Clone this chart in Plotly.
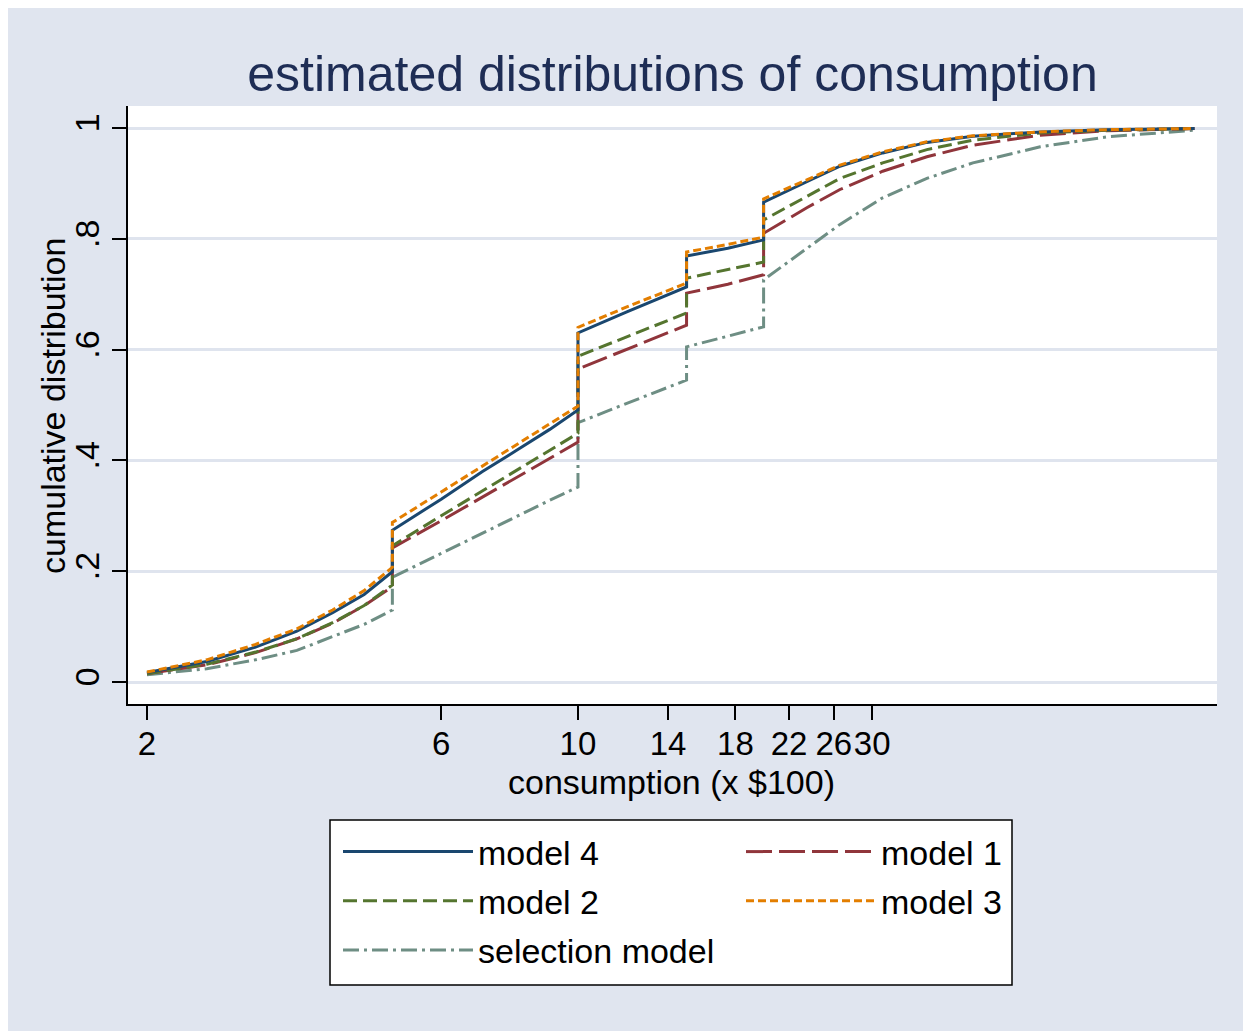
import math
import plotly.graph_objects as go

# ---------------- data ----------------
consumption = [2, 2.5, 3, 3.5, 4, 4.5, 5,
               5, 6, 7, 8, 9, 10,
               10, 12, 15,
               15, 17.5, 20,
               20, 23.5, 26.6, 31.2, 36.8, 43.7, 56.2, 72, 100]

model4 = [0.017, 0.037, 0.063, 0.092, 0.125, 0.158, 0.199,
          0.274, 0.330, 0.380, 0.420, 0.456, 0.491,
          0.630, 0.668, 0.713,
          0.769, 0.783, 0.798,
          0.866, 0.903, 0.931, 0.955, 0.974, 0.985, 0.993, 0.997, 0.999]

model1 = [0.015, 0.031, 0.053, 0.078, 0.106, 0.138, 0.172,
          0.242, 0.291, 0.334, 0.372, 0.404, 0.433,
          0.565, 0.600, 0.644,
          0.702, 0.718, 0.735,
          0.810, 0.856, 0.889, 0.922, 0.948, 0.969, 0.987, 0.995, 0.999]

model2 = [0.015, 0.032, 0.054, 0.078, 0.107, 0.138, 0.175,
          0.246, 0.300, 0.345, 0.383, 0.418, 0.449,
          0.588, 0.623, 0.666,
          0.729, 0.744, 0.758,
          0.834, 0.876, 0.909, 0.937, 0.961, 0.978, 0.991, 0.996, 0.999]

model3 = [0.018, 0.040, 0.068, 0.096, 0.130, 0.165, 0.207,
          0.288, 0.343, 0.390, 0.430, 0.466, 0.498,
          0.640, 0.677, 0.720,
          0.776, 0.790, 0.803,
          0.872, 0.906, 0.933, 0.957, 0.975, 0.986, 0.993, 0.997, 0.999]

selection = [0.013, 0.024, 0.040, 0.057, 0.082, 0.104, 0.130,
             0.189, 0.232, 0.269, 0.300, 0.328, 0.352,
             0.468, 0.503, 0.545,
             0.605, 0.624, 0.641,
             0.726, 0.783, 0.826, 0.874, 0.909, 0.937, 0.966, 0.984, 0.996]

x_tickvals = [2, 6, 10, 14, 18, 22, 26, 30]
x_ticktext = ["2", "6", "10", "14", "18", "22", "26", "30"]
y_tickvals = [0, 0.2, 0.4, 0.6, 0.8, 1]
y_ticktext = ["0", ".2", ".4", ".6", ".8", "1"]

# ---------------- styling ----------------
FONT = "Liberation Sans, Arial, Helvetica, sans-serif"
BG = "#e0e5ef"
OFF = 8                      # page body margin of the html page
W, H = 1251 - OFF, 1031 - OFF
# plot area in figure pixels (reference pixels minus page offset)
L, R, T, B = 128 - OFF, 1217 - OFF, 106 - OFF, 704 - OFF

series = [
    # name, values, color, dash, legend, rank
    ("selection model", selection, "#6e8e84", "16px,5px,3px,5px", "legend", 3),
    ("model 1", model1, "#90353b", "26px,7px", "legend2", 1),
    ("model 2", model2, "#55752f", "14px,6px", "legend", 2),
    ("model 4", model4, "#1a476f", "solid", "legend", 1),
    ("model 3", model3, "#e37e00", "8px,4px", "legend2", 2),
]

fig = go.Figure()
for name, vals, color, dash, leg, rank in series:
    fig.add_trace(go.Scatter(
        x=consumption, y=vals, mode="lines", name=name,
        line=dict(color=color, width=3, dash=dash),
        legend=leg, legendrank=rank, legendgroup=name,
    ))

def px_x(p):          # reference pixel -> paper fraction
    return (p - OFF - L) / (R - L)

def px_y(p):
    return (B - (p - OFF)) / (B - T)

shapes = [
    dict(type="rect", xref="paper", yref="paper", layer="above",
         x0=px_x(330), x1=px_x(1012), y0=px_y(985), y1=px_y(820),
         fillcolor="white", line=dict(color="black", width=1.5)),
]

annotations = [
    dict(text="consumption (x $100)", xref="paper", yref="paper",
         x=px_x(671.5), y=px_y(782), xanchor="center", yanchor="middle",
         showarrow=False, font=dict(family=FONT, size=34, color="black")),
    dict(text="cumulative distribution", xref="paper", yref="paper",
         x=px_x(53), y=px_y(406), xanchor="center", yanchor="middle",
         textangle=-90, showarrow=False,
         font=dict(family=FONT, size=34, color="black")),
]

xmin = math.log10(2) + (128 - 147) / 616.6
xmax = math.log10(2) + (1217 - 147) / 616.6
ymin = (682 - 704) / 554
ymax = (682 - 106) / 554

legend_common = dict(
    xref="container", yref="container", xanchor="left", yanchor="top",
    bgcolor="rgba(0,0,0,0)", borderwidth=0, itemwidth=130,
    font=dict(family=FONT, size=34, color="black"),
    tracegroupgap=2, itemclick=False, itemdoubleclick=False,
)

fig.update_layout(
    width=W, height=H, autosize=False,
    margin=dict(l=L, r=W - R, t=T, b=H - B, pad=0, autoexpand=False),
    paper_bgcolor=BG, plot_bgcolor="white",
    font=dict(family=FONT, size=34, color="black"),
    title=dict(text="estimated distributions of consumption",
               x=(L + R) / 2 / W, xref="container", xanchor="center",
               y=1 - (73 - OFF) / H, yref="container", yanchor="middle",
               font=dict(family=FONT, size=50, color="#1e2d55")),
    showlegend=True,
    legend=dict(x=(338 - OFF) / W, y=1 - (823 - OFF) / H, **legend_common),
    legend2=dict(x=(741 - OFF) / W, y=1 - (823 - OFF) / H, **legend_common),
    shapes=shapes,
    annotations=annotations,
    xaxis=dict(
        type="log", range=[xmin, xmax], autorange=False, automargin=False,
        tickmode="array", tickvals=x_tickvals, ticktext=x_ticktext,
        tickangle=0, ticklabelstandoff=-4,
        ticks="outside", ticklen=14, tickwidth=1.5, tickcolor="black",
        showline=True, linecolor="black", linewidth=1.5,
        showgrid=False, zeroline=False,
        tickfont=dict(family=FONT, size=33, color="black"),
    ),
    yaxis=dict(
        range=[ymin, ymax], autorange=False, automargin=False,
        tickmode="array", tickvals=y_tickvals, ticktext=y_ticktext,
        tickangle=-90,
        ticks="outside", ticklen=14, tickwidth=1.5, tickcolor="black",
        showline=True, linecolor="black", linewidth=1.5,
        showgrid=True, gridcolor="#dfe4ee", gridwidth=2.5,
        zeroline=False,
        tickfont=dict(family=FONT, size=34, color="black"),
    ),
)

fig.write_html("out.html")
